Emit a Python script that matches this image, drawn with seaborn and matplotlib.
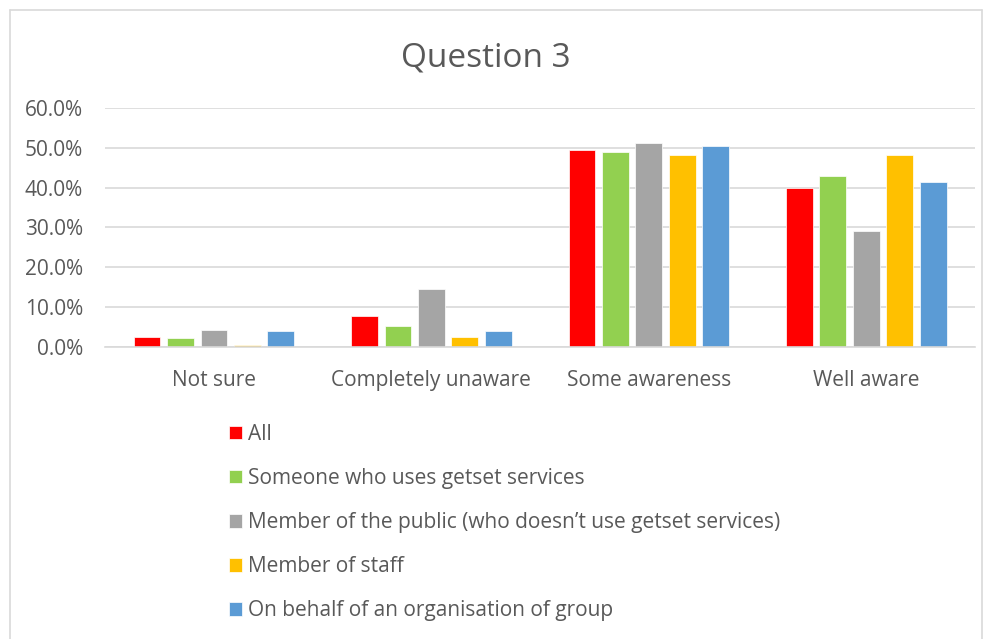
import pandas as pd
import seaborn as sns
import matplotlib.pyplot as plt
from matplotlib.ticker import PercentFormatter
from matplotlib.lines import Line2D

# data
categories = ['Not sure', 'Completely unaware', 'Some awareness', 'Well aware']
groups = ['All',
          'Someone who uses getset services',
          'Member of the public (who doesn\u2019t use getset services)',
          'Member of staff',
          'On behalf of an organisation of group']
all_resp = [0.025, 0.077, 0.494, 0.398]
service_users = [0.023, 0.052, 0.489, 0.430]
public = [0.043, 0.146, 0.513, 0.292]
staff = [0.004, 0.025, 0.483, 0.483]
organisation = [0.039, 0.039, 0.504, 0.414]
colors = ['#FF0000', '#92D050', '#A5A5A5', '#FFC000', '#5B9BD5']

rows = []
for g, vals in zip(groups, [all_resp, service_users, public, staff, organisation]):
    for c, v in zip(categories, vals):
        rows.append({'Category': c, 'Group': g, 'Share': v})
df = pd.DataFrame(rows)

sns.set_style('white')
plt.rcParams['font.family'] = ['Open Sans', 'DejaVu Sans']
text_col = '#595959'

fig = plt.figure(figsize=(9.92, 6.39), dpi=100)
ax = fig.add_axes([0.106, 0.457, 0.877, 0.374])

sns.barplot(data=df, x='Category', y='Share', hue='Group', order=categories,
            hue_order=groups, palette=colors, saturation=1, width=0.77, gap=0.2,
            edgecolor='white', linewidth=0.5, ax=ax)

ax.set_ylim(0, 0.6)
ax.set_yticks([0, 0.1, 0.2, 0.3, 0.4, 0.5, 0.6])
ax.yaxis.set_major_formatter(PercentFormatter(1.0, decimals=1))
ax.grid(axis='y', color='#D9D9D9', linewidth=1.2)
ax.set_axisbelow(True)
for s in ['top', 'right', 'left']:
    ax.spines[s].set_visible(False)
ax.spines['bottom'].set_color('#D9D9D9')
ax.spines['bottom'].set_linewidth(1.2)
ax.tick_params(axis='x', length=0, labelsize=15, colors=text_col, pad=16.5)
ax.tick_params(axis='y', length=0, labelsize=15, colors=text_col, pad=16)
ax.set_xlabel('')
ax.set_ylabel('')

fig.text(0.49, 0.910, 'Question 3', fontsize=24, color=text_col,
         ha='center', va='center')

handles, labels = ax.get_legend_handles_labels()
ax.get_legend().remove()
fig.legend(handles, labels, loc='upper left', bbox_to_anchor=(0.212, 0.366),
           frameon=False, fontsize=15, labelcolor=text_col,
           handlelength=0.62, handleheight=0.62, handletextpad=0.3,
           labelspacing=1.11)

# chart border
fig.add_artist(Line2D([0.010, 0.010], [0.0, 0.984], transform=fig.transFigure,
                      color='#D9D9D9', linewidth=1.2))
fig.add_artist(Line2D([0.010, 0.990], [0.984, 0.984], transform=fig.transFigure,
                      color='#D9D9D9', linewidth=1.2))
fig.add_artist(Line2D([0.990, 0.990], [0.0, 0.984], transform=fig.transFigure,
                      color='#D9D9D9', linewidth=1.2))

fig.savefig('out.png', dpi=100)
